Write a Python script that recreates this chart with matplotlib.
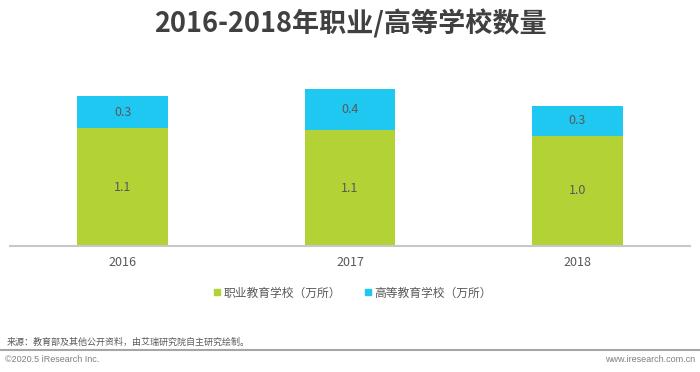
import matplotlib
matplotlib.use("Agg")
from matplotlib import pyplot as plt
from matplotlib.lines import Line2D

plt.rcParams['font.family'] = ['Noto Sans CJK SC', 'DejaVu Sans']

# data (万所), heights
years = ["2016", "2017", "2018"]
vocational = [1.09, 1.07, 1.02]
higher = [0.30, 0.38, 0.28]
series_names = ["职业教育学校（万所）", "高等教育学校（万所）"]

green = "#b2d235"
cyan = "#1ec8f0"
text_gray = "#595959"

W, H = 700, 372
fig = plt.figure(figsize=(W / 100, H / 100), dpi=100)

# axes box in pixel terms: baseline at y=246, x from 10 to 690
base_y = 246
top_y = 80
ax = fig.add_axes([10 / W, (H - base_y) / H, 680 / W, (base_y - top_y) / H])

x = list(range(len(years)))
bw = 0.40
ax.bar(x, vocational, width=bw, color=green, zorder=2)
ax.bar(x, higher, width=bw, bottom=vocational, color=cyan, zorder=2)

for i in x:
    ax.text(i, vocational[i] / 2, f"{vocational[i]:.1f}", ha="center", va="center",
            fontsize=9, color=text_gray)
    ax.text(i, vocational[i] + higher[i] / 2, f"{higher[i]:.1f}", ha="center", va="center",
            fontsize=9, color=text_gray)

ax.set_xlim(-0.497, 2.497)
ax.set_ylim(0, (base_y - top_y) / 108)
ax.set_xticks(x)
ax.set_xticklabels(years, fontsize=9, color=text_gray)
ax.tick_params(axis="x", length=0, pad=7)
ax.set_yticks([])
for s in ["top", "right", "left"]:
    ax.spines[s].set_visible(False)
ax.spines["bottom"].set_color("#c8c8c8")
ax.spines["bottom"].set_linewidth(1.5)

# title
fig.text(0.5, 1 - 24 / H, "2016-2018年职业/高等学校数量", ha="center", va="center",
         fontsize=19.5, fontweight="bold", color="#404040")

# legend
handles = [Line2D([], [], marker="s", linestyle="none", markersize=5, color=green),
           Line2D([], [], marker="s", linestyle="none", markersize=5, color=cyan)]
fig.legend(handles, series_names, loc="center", bbox_to_anchor=(352 / W, 1 - 293 / H),
           ncol=2, frameon=False, fontsize=8.5, handletextpad=0.1, columnspacing=1.9,
           labelcolor=text_gray, handlelength=0.8)

# source and footer
fig.text(7 / W, 1 - 342 / H, "来源：教育部及其他公开资料，由艾瑞研究院自主研究绘制。",
         ha="left", va="center", fontsize=6.5, color=text_gray)
fig.add_artist(Line2D([0, 1], [1 - 350 / H, 1 - 350 / H], color="#a6a6a6", linewidth=1.5,
                      transform=fig.transFigure))
fig.text(5 / W, 1 - 360 / H, "©2020.5 iResearch Inc.", ha="left", va="center",
         fontsize=6.5, color="#7f7f7f", family=["Liberation Sans", "DejaVu Sans"])
fig.text(695 / W, 1 - 360 / H, "www.iresearch.com.cn", ha="right", va="center",
         fontsize=6.5, color="#7f7f7f", family=["Liberation Sans", "DejaVu Sans"])

fig.savefig("out.png", dpi=100, facecolor="white")
